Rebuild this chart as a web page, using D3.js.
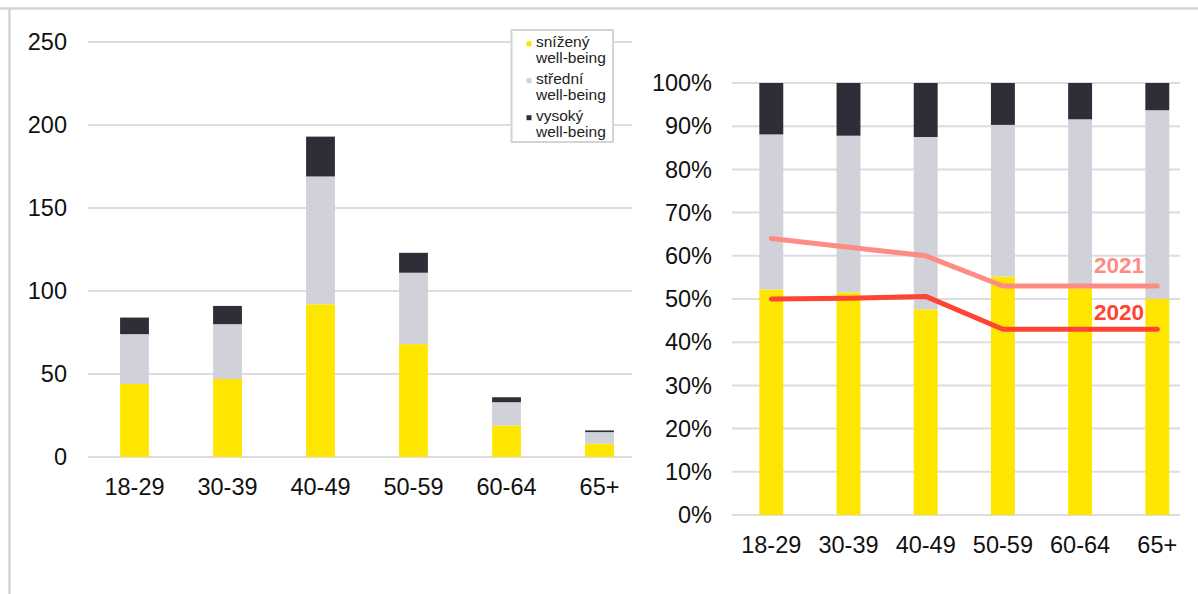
<!DOCTYPE html>
<html>
<head>
<meta charset="utf-8">
<script src="https://cdn.jsdelivr.net/npm/d3@7/dist/d3.min.js"></script>
<style>
  html, body { margin: 0; padding: 0; background: #fff; }
  svg { display: block; }
  text { font-family: "Liberation Sans", Arial, sans-serif; }
</style>
</head>
<body>
<svg id="chart" width="1198" height="594"></svg>
<script>
// ---------- DATA ----------
const categories = ["18-29", "30-39", "40-49", "50-59", "60-64", "65+"];
const seriesKeys = ["low", "mid", "high"];
const legendLabels = [["snížený", "well-being"], ["střední", "well-being"], ["vysoký", "well-being"]];

// left chart: counts
const countLow  = [44, 47, 92, 68, 19, 8];
const countMid  = [30, 33, 77, 43, 14, 7];
const countHigh = [10, 11, 24, 12, 3, 1];

// right chart: shares
const shareLow  = [0.522, 0.515, 0.476, 0.552, 0.525, 0.500];
const shareMid  = [0.359, 0.363, 0.399, 0.351, 0.391, 0.437];
const shareHigh = [0.119, 0.122, 0.125, 0.097, 0.084, 0.063];

const line2021 = [0.64, 0.62, 0.60, 0.53, 0.53, 0.53];
const line2020 = [0.50, 0.502, 0.506, 0.43, 0.43, 0.43];

const leftTicks  = [0, 50, 100, 150, 200, 250];
const rightTicks = [0, 0.1, 0.2, 0.3, 0.4, 0.5, 0.6, 0.7, 0.8, 0.9, 1.0];

// ---------- STYLE ----------
const colors = { low: "#FFE600", mid: "#D1D2D9", high: "#2E2E38" };
const gridColor = "#DCDCE2";
const fontSize = 23.5;

const svg = d3.select("#chart");

// frame lines
svg.append("line").attr("x1", 0).attr("x2", 1198).attr("y1", 8.5).attr("y2", 8.5)
  .attr("stroke", "#D3D3DA").attr("stroke-width", 2.5);
svg.append("line").attr("x1", 9.5).attr("x2", 9.5).attr("y1", 8).attr("y2", 594)
  .attr("stroke", "#D3D3DA").attr("stroke-width", 2.5);

function makeRows(a, b, c) {
  return categories.map((cat, i) => ({ cat, low: a[i], mid: b[i], high: c[i] }));
}
const stack = d3.stack().keys(seriesKeys);

// ---------- LEFT CHART ----------
{
  const x = d3.scaleBand().domain(categories).range([88, 646]).paddingInner(0.69).paddingOuter(0.345);
  const y = d3.scaleLinear().domain([0, 250]).range([457, 42]);
  const g = svg.append("g");

  g.selectAll("line.grid").data(leftTicks).join("line")
    .attr("x1", 88).attr("x2", 632)
    .attr("y1", d => y(d)).attr("y2", d => y(d))
    .attr("stroke", gridColor).attr("stroke-width", 2);

  g.selectAll("text.ytick").data(leftTicks).join("text")
    .attr("x", 67).attr("y", d => y(d)).attr("dy", "0.35em")
    .attr("text-anchor", "end").attr("font-size", fontSize).attr("fill", "#111")
    .text(d => d);

  const layers = stack(makeRows(countLow, countMid, countHigh));
  layers.forEach(layer => {
    g.selectAll(null).data(layer).join("rect")
      .attr("x", d => x(d.data.cat)).attr("width", x.bandwidth())
      .attr("y", d => y(d[1])).attr("height", d => y(d[0]) - y(d[1]))
      .attr("fill", colors[layer.key]);
  });

  g.selectAll("text.xtick").data(categories).join("text")
    .attr("x", d => x(d) + x.bandwidth() / 2).attr("y", 495)
    .attr("text-anchor", "middle").attr("font-size", fontSize).attr("fill", "#111")
    .text(d => d);

  // legend
  const lg = g.append("g");
  lg.append("rect").attr("x", 511.5).attr("y", 30).attr("width", 101.5).attr("height", 112)
    .attr("fill", "#fff").attr("stroke", "#D3D3DA").attr("stroke-width", 2);
  seriesKeys.forEach((k, i) => {
    const top = 46.7 + i * 37;
    lg.append("rect").attr("x", 526.5).attr("y", top - 5.5).attr("width", 5).attr("height", 5)
      .attr("fill", colors[k]);
    legendLabels[i].forEach((t, j) => {
      lg.append("text").attr("x", 536).attr("y", top + j * 16.5)
        .attr("font-size", 15.5).attr("fill", "#222").text(t);
    });
  });
}

// ---------- RIGHT CHART ----------
{
  const x = d3.scaleBand().domain(categories).range([732.7, 1195.9]).paddingInner(0.69).paddingOuter(0.345);
  const y = d3.scaleLinear().domain([0, 1]).range([515, 83]);
  const g = svg.append("g");

  g.selectAll("line.grid").data(rightTicks).join("line")
    .attr("x1", 732).attr("x2", 1180)
    .attr("y1", d => y(d)).attr("y2", d => y(d))
    .attr("stroke", gridColor).attr("stroke-width", 2);

  g.selectAll("text.ytick").data(rightTicks).join("text")
    .attr("x", 712).attr("y", d => y(d)).attr("dy", "0.35em")
    .attr("text-anchor", "end").attr("font-size", fontSize).attr("fill", "#111")
    .text(d => d3.format(".0%")(d));

  const layers = stack(makeRows(shareLow, shareMid, shareHigh));
  layers.forEach(layer => {
    g.selectAll(null).data(layer).join("rect")
      .attr("x", d => x(d.data.cat)).attr("width", x.bandwidth())
      .attr("y", d => y(d[1])).attr("height", d => y(d[0]) - y(d[1]))
      .attr("fill", colors[layer.key]);
  });

  const cx = c => x(c) + x.bandwidth() / 2;
  const line = d3.line().x((d, i) => cx(categories[i])).y(d => y(d));

  g.append("path").attr("d", line(line2021)).attr("fill", "none")
    .attr("stroke", "#FF8C84").attr("stroke-width", 5)
    .attr("stroke-linecap", "round").attr("stroke-linejoin", "round");
  g.append("path").attr("d", line(line2020)).attr("fill", "none")
    .attr("stroke", "#FF4433").attr("stroke-width", 5)
    .attr("stroke-linecap", "round").attr("stroke-linejoin", "round");

  g.append("text").attr("x", 1144).attr("y", 273).attr("text-anchor", "end")
    .attr("font-size", 22.5).attr("font-weight", "bold").attr("fill", "#FF8C84").text("2021");
  g.append("text").attr("x", 1144).attr("y", 320).attr("text-anchor", "end")
    .attr("font-size", 22.5).attr("font-weight", "bold").attr("fill", "#FF4433").text("2020");

  g.selectAll("text.xtick").data(categories).join("text")
    .attr("x", d => cx(d)).attr("y", 553)
    .attr("text-anchor", "middle").attr("font-size", fontSize).attr("fill", "#111")
    .text(d => d);
}
</script>
</body>
</html>
